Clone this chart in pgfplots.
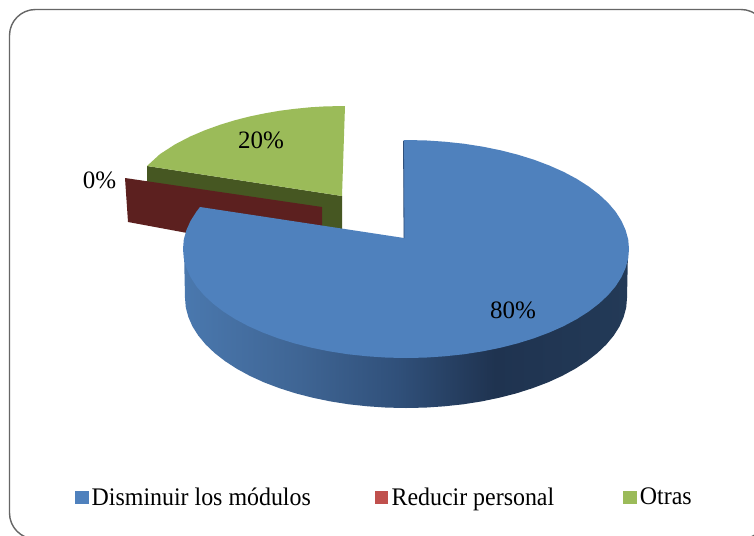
\documentclass[border=0pt]{standalone}
\usepackage{pgfplots}
\pgfplotsset{compat=1.18}
\usepackage{fontspec}
\setmainfont{Liberation Serif}
\newfontfamily\legfont[FakeStretch=0.945]{Liberation Serif}
\definecolor{blueTop}{HTML}{4F81BD}
\definecolor{redTop}{HTML}{C0504D}
\definecolor{greenTop}{HTML}{9BBB59}
\definecolor{greenSide}{HTML}{465722}
\definecolor{redSide}{HTML}{5C201F}
\definecolor{sa}{HTML}{4A78AE}
\definecolor{sb}{HTML}{3F6594}
\definecolor{sc}{HTML}{30507A}
\definecolor{sd}{HTML}{1F3350}
\definecolor{se}{HTML}{233A57}
\pgfdeclarehorizontalshading{sideshade}{100bp}{color(0bp)=(sa); color(25bp)=(sa); color(38bp)=(sb); color(49bp)=(sc); color(60bp)=(sd); color(75bp)=(se); color(100bp)=(se)}
\begin{document}
\begin{tikzpicture}[x=1pt,y=1pt]
\begin{axis}[
  scale only axis, width=754pt, height=535pt,
  xmin=0, xmax=754, ymin=0, ymax=535, y dir=reverse,
  hide axis, clip=true,
  legend style={at={(axis cs:75,497)}, anchor=west, draw=none, fill=none,
    font=\legfont\fontsize{25.3}{30}\selectfont, inner sep=0pt, outer sep=0pt,
    /tikz/every even column/.append style={column sep=0pt},
    nodes={inner sep=2pt}},
  legend columns=3,
  legend cell align=left,
  every axis plot/.append style={forget plot},
]
% page extent
\addplot[fill=white, draw=none] coordinates {(0,0)(754,0)(754,535)(0,535)} -- cycle;
% frame
\addplot[draw=gray!80!black, line width=1.4pt, rounded corners=26pt] coordinates {(9.5,9.5)(767,9.5)(767,539)(9.5,539)} -- cycle;
% dark green side of the Otras slice
\addplot[fill=greenSide, draw=none] coordinates {(147,166)(342,196)(342,232)(147,200)} -- cycle;
% green top
\addplot[fill=greenTop, draw=none] coordinates {(147,166)(160,154.1)(175,144.4)(190,136.6)(205,130.2)(220,124.8)(235,120.2)(250,116.4)(265,113.3)(280,110.7)(295,108.8)(310,107.3)(325,106.4)(345,106)(342,196)} -- cycle;
% red side (0 %)
\addplot[fill=redSide, draw=none] coordinates {(125,178)(322,207)(322,258)(128,222)} -- cycle;
% blue side
\addplot[shading=sideshade, draw=none] coordinates {
(184,250)(185,298)(185.8,307.6)(188.4,317.1)(192.5,326.5)(198.3,335.6)(205.7,344.5)(214.6,353)(225,361.1)(236.7,368.7)(249.7,375.8)(263.9,382.3)(279.2,388.1)(295.5,393.3)(312.6,397.7)(330.4,401.4)(348.8,404.3)(367.6,406.3)(386.7,407.6)(406,408)(425.3,407.6)(444.4,406.3)(463.2,404.3)(481.6,401.4)(499.4,397.7)(516.5,393.3)(532.8,388.1)(548.1,382.3)(562.3,375.8)(575.3,368.7)(587,361.1)(597.4,353)(606.3,344.5)(613.7,335.6)(619.5,326.5)(623.6,317.1)(626.2,307.6)(627,298)(628,250)} -- cycle;
% blue top
\addplot[fill=blueTop, draw=none] coordinates {
(403.5,140)(425.4,140.4)(444.7,141.7)(463.7,143.7)(482.3,146.6)(500.2,150.2)(517.5,154.6)(533.9,159.7)(549.3,165.5)(563.7,171.9)(576.8,178.9)(588.7,186.5)(599.1,194.5)(608.1,202.9)(615.6,211.7)(621.4,220.8)(625.6,230.1)(628.2,239.5)(629,249)(628.2,258.5)(625.6,267.9)(621.4,277.2)(615.6,286.3)(608.1,295.1)(599.1,303.5)(588.7,311.5)(576.8,319.1)(563.7,326.1)(549.3,332.5)(533.9,338.3)(517.5,343.4)(500.2,347.8)(482.3,351.4)(463.7,354.3)(444.7,356.3)(425.4,357.6)(406,358)(386.6,357.6)(367.3,356.3)(348.3,354.3)(329.7,351.4)(311.8,347.8)(294.5,343.4)(278.1,338.3)(262.7,332.5)(248.3,326.1)(235.2,319.1)(223.3,311.5)(212.9,303.5)(203.9,295.1)(196.4,286.3)(190.6,277.2)(186.4,267.9)(183.8,258.5)(183,249)(183.8,239.5)(186.4,230.1)(190.6,220.8)(196.4,211.7)(200,207)(404,238)} -- cycle;
\addplot[draw=sc, line width=0.8pt] coordinates {(403.5,141)(404,238)};
% labels
\node[font=\fontsize{25}{30}\selectfont] at (axis cs:513,310) {80\%};
\node[font=\fontsize{25}{30}\selectfont] at (axis cs:261,140) {20\%};
\node[font=\fontsize{25}{30}\selectfont] at (axis cs:99.5,180) {0\%};
% legend
\addlegendimage{legend image code/.code={\fill[blueTop] (0pt,-6pt) rectangle (12.5pt,6pt); \path[draw=none,fill=none] (0pt,0pt) -- (14.5pt,0pt);}}
\addlegendentry{Disminuir los módulos\hspace*{62pt}\mbox{}}
\addlegendimage{legend image code/.code={\fill[redTop] (0pt,-6pt) rectangle (12.5pt,6pt); \path[draw=none,fill=none] (0pt,0pt) -- (14.5pt,0pt);}}
\addlegendentry{Reducir personal\hspace*{67pt}\mbox{}}
\addlegendimage{legend image code/.code={\fill[greenTop] (0pt,-6pt) rectangle (12.5pt,6pt); \path[draw=none,fill=none] (0pt,0pt) -- (14.5pt,0pt);}}
\addlegendentry{Otras}
\end{axis}
\end{tikzpicture}
\end{document}
